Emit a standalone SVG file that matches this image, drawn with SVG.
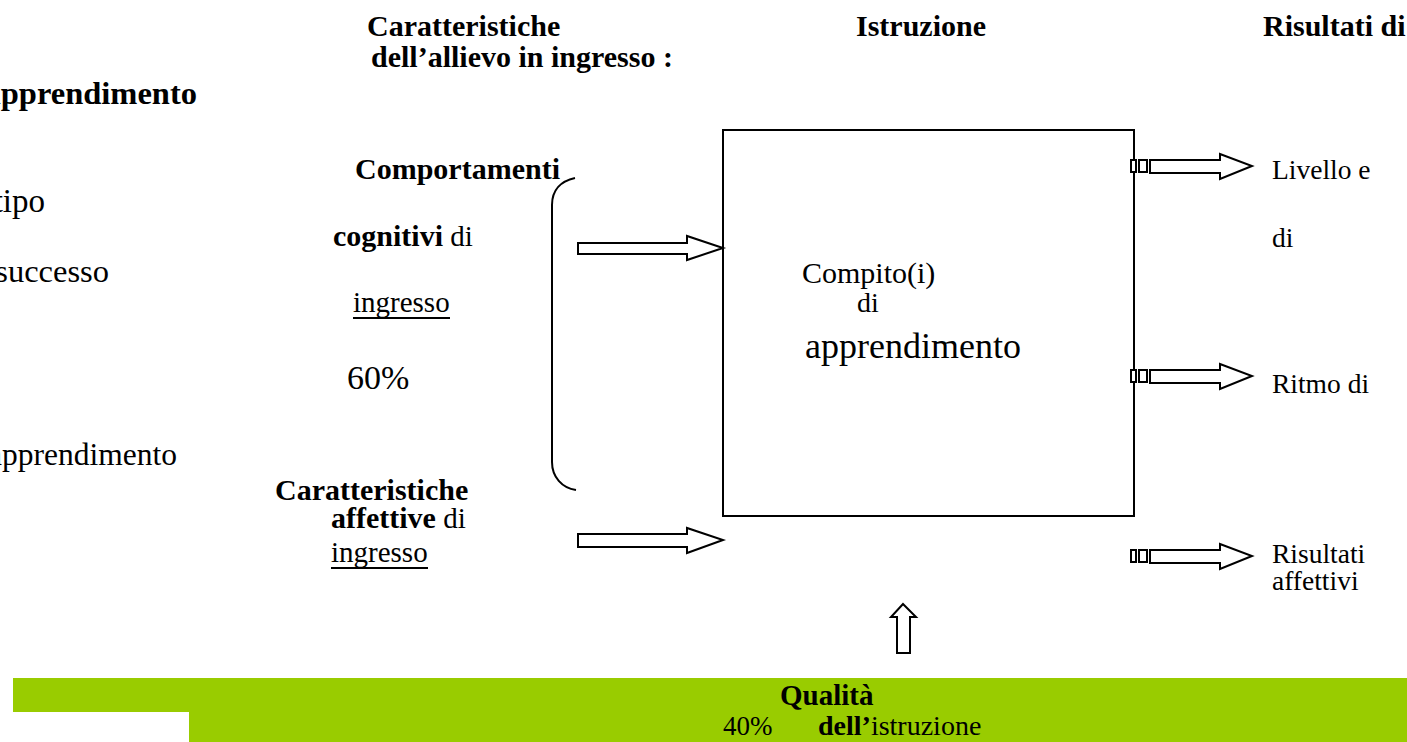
<svg xmlns="http://www.w3.org/2000/svg" width="1407" height="742" viewBox="0 0 1407 742" font-family="'Liberation Serif', 'Times New Roman', 'DejaVu Serif', serif">
<style>
text{font-family:"Liberation Serif","Times New Roman","DejaVu Serif",serif;fill:#000}
.b{font-weight:bold}
.h{font-size:30px;font-weight:bold}
.m{font-size:29px}
.r{font-size:27.5px}
.arrow{fill:#fff;stroke:#000;stroke-width:2;stroke-linejoin:miter}
.tab{fill:#fff;stroke:#000;stroke-width:2}
.line{fill:none;stroke:#000;stroke-width:2}
</style>
<defs>
<g id="outArrow">
<rect class="tab" x="1131" y="-6" width="5" height="12"/>
<rect class="tab" x="1139" y="-6" width="8" height="12"/>
<polygon class="arrow" points="1150,-6 1220,-6 1220,-12 1252,0 1220,13 1220,7 1150,7"/>
</g>
</defs>
<rect width="1407" height="742" fill="#fff"/>

<g id="headers">
<text class="h" x="367" y="36">Caratteristiche</text>
<text class="h" x="371" y="67">dell’allievo in ingresso :</text>
<text class="h" x="856" y="36">Istruzione</text>
<text class="h" x="1263" y="36">Risultati di</text>
</g>

<g id="left-wrapped">
<text class="b" x="197" y="104" text-anchor="end" style="font-size:32.5px">apprendimento</text>
<text x="45" y="212" text-anchor="end" style="font-size:33px">tipo</text>
<text x="109" y="282" text-anchor="end" style="font-size:32.5px">successo</text>
<text x="177" y="465" text-anchor="end" style="font-size:31.5px">apprendimento</text>
</g>

<g id="node-cognitivi">
<text class="h" x="355" y="179">Comportamenti</text>
<text x="333" y="246" style="font-size:29px"><tspan class="b" style="font-size:30px">cognitivi</tspan> di</text>
<text class="m" x="353" y="312">ingresso</text>
<rect x="353" y="317" width="97" height="2" fill="#000"/>
<text x="347" y="389" style="font-size:34px">60%</text>
</g>

<g id="node-affettive">
<text class="h" x="275" y="500">Caratteristiche</text>
<text x="331" y="528" style="font-size:29px"><tspan class="b" style="font-size:30px">affettive</tspan> di</text>
<text class="m" x="331" y="562">ingresso</text>
<rect x="331" y="567" width="97" height="2" fill="#000"/>
</g>

<g id="node-compito">
<rect class="line" x="723" y="130" width="411" height="386"/>
<text x="802" y="283" style="font-size:30px">Compito(i)</text>
<text x="857" y="312" style="font-size:28px">di</text>
<text x="805" y="358" style="font-size:36px">apprendimento</text>
</g>

<g id="node-risultati">
<text class="r" x="1272" y="179">Livello e</text>
<text class="r" x="1272" y="247">di</text>
<text class="r" x="1272" y="393">Ritmo di</text>
<text class="r" x="1272" y="563">Risultati</text>
<text class="r" x="1272" y="590">affettivi</text>
</g>

<g id="node-qualita">
<path d="M13,678 H1407 V742 H189 V712 H13 Z" fill="#99CC00"/>
<text class="b" x="780" y="705" style="font-size:29px">Qualità</text>
<text x="723" y="735" style="font-size:27px">40%</text>
<text x="818" y="735" style="font-size:28px"><tspan class="b">dell’</tspan>istruzione</text>
</g>

<g id="connectors">
<path class="line" d="M575,178 C561,181 552,190 552,205 L552,462 C552,477 562,488 576,490"/>
<polygon class="arrow" points="578,243 687,243 687,236 723,248 687,260 687,254 578,254"/>
<polygon class="arrow" points="578,534 687,534 687,528 723,540 687,553 687,547 578,547"/>
<use href="#outArrow" transform="translate(0,166)"/>
<use href="#outArrow" transform="translate(0,376)"/>
<use href="#outArrow" transform="translate(0,556)"/>
<polygon class="arrow" points="897,653 897,617 891,617 903,604 916,617 910,617 910,653"/>
</g>
</svg>
